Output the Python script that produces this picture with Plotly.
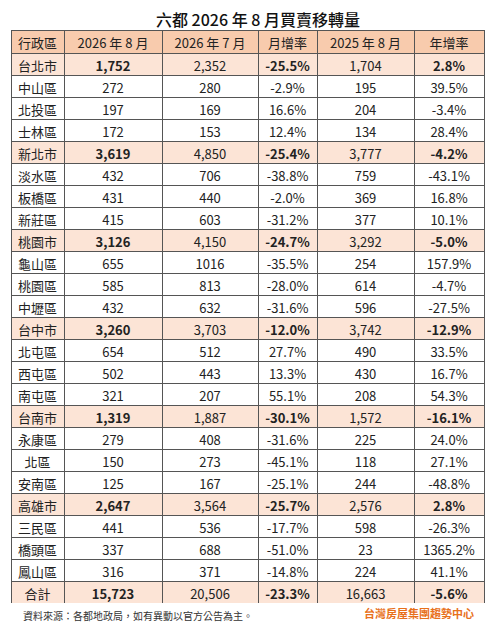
import plotly.graph_objects as go

headers = ["行政區", "2026 年 8 月", "2026 年 7 月", "月增率", "2025 年 8 月", "年增率"]
districts = ["台北市","中山區","北投區","士林區","新北市","淡水區","板橋區","新莊區",
             "桃園市","龜山區","桃園區","中壢區","台中市","北屯區","西屯區","南屯區",
             "台南市","永康區","北區","安南區","高雄市","三民區","橋頭區","鳳山區","合計"]
aug2026 = ["1,752","272","197","172","3,619","432","431","415","3,126","655","585","432",
           "3,260","654","502","321","1,319","279","150","125","2,647","441","337","316","15,723"]
jul2026 = ["2,352","280","169","153","4,850","706","440","603","4,150","1016","813","632",
           "3,703","512","443","207","1,887","408","273","167","3,564","536","688","371","20,506"]
mom = ["-25.5%","-2.9%","16.6%","12.4%","-25.4%","-38.8%","-2.0%","-31.2%","-24.7%","-35.5%",
       "-28.0%","-31.6%","-12.0%","27.7%","13.3%","55.1%","-30.1%","-31.6%","-45.1%","-25.1%",
       "-25.7%","-17.7%","-51.0%","-14.8%","-23.3%"]
aug2025 = ["1,704","195","204","134","3,777","759","369","377","3,292","254","614","596",
           "3,742","490","430","208","1,572","225","118","244","2,576","598","23","224","16,663"]
yoy = ["2.8%","39.5%","-3.4%","28.4%","-4.2%","-43.1%","16.8%","10.1%","-5.0%","157.9%",
       "-4.7%","-27.5%","-12.9%","33.5%","16.7%","54.3%","-16.1%","24.0%","27.1%","-48.8%",
       "2.8%","-26.3%","1365.2%","41.1%","-5.6%"]

major = [d in {"台北市","新北市","桃園市","台中市","台南市","高雄市","合計"} for d in districts]
fills = ["#FCE4D6" if m else "white" for m in major]
cols = [districts, aug2026, jul2026, mom, aug2025, yoy]
bold_col = [False, True, False, True, False, True]
TXT = "#222"
CLR = "rgba(0,0,0,0)"
base_colors = [[CLR if (bc and m) else TXT for m in major] for bc in bold_col]
over_colors = [[TXT if (bc and m) else CLR for m in major] for bc in bold_col]

dom = dict(x=[3/500, 476/500], y=[35/630, 608/630])
cw = [53, 98, 96, 59, 97, 70]
fam = "Noto Sans CJK TC"

fig = go.Figure()
fig.add_trace(go.Table(
    domain=dom, columnwidth=cw,
    header=dict(values=headers, fill_color="#F8CBAD", line=dict(color="#555", width=1),
                align="center", height=23, font=dict(family=fam, size=13, color=TXT)),
    cells=dict(values=cols, fill_color=[fills]*6, line=dict(color="#555", width=1),
               align="center", height=22,
               font=dict(family=fam, size=13, color=base_colors)),
))
fig.add_trace(go.Table(
    domain=dom, columnwidth=cw,
    header=dict(values=headers, fill_color=CLR, line=dict(color=CLR, width=0),
                align="center", height=23, font=dict(family=fam, size=13, color=CLR)),
    cells=dict(values=cols, fill_color=CLR, line=dict(color=CLR, width=0),
               align="center", height=22,
               font=dict(family=fam, size=13, color=over_colors, weight="bold")),
))
fig.update_layout(
    width=500, height=630, margin=dict(l=0, r=0, t=0, b=0), paper_bgcolor="white",
    annotations=[
        dict(text="六都 2026 年 8 月買賣移轉量", x=0.5, y=1-11/630, xref="paper", yref="paper",
             yanchor="middle", showarrow=False,
             font=dict(family=fam, size=16, color="#111", weight=500)),
        dict(text="資料來源：各都地政局，如有異動以官方公告為主。", x=13/500, y=1-607/630,
             xref="paper", yref="paper", xanchor="left", yanchor="middle", showarrow=False,
             font=dict(family=fam, size=10, color="#333")),
        dict(text="<b>台灣房屋集團趨勢中心</b>", x=468/500, y=1-605/630,
             xref="paper", yref="paper", xanchor="right", yanchor="middle", showarrow=False,
             font=dict(family=fam, size=11, color="#E8701A")),
    ],
)
fig.write_html("out.html")
